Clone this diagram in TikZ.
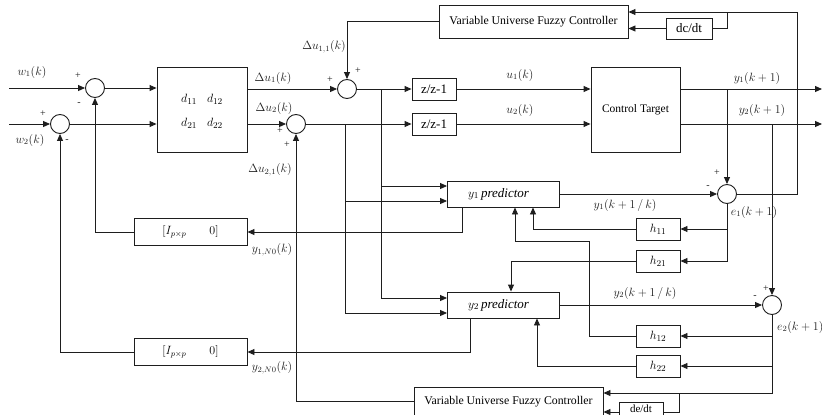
\documentclass[tikz,border=0pt]{standalone}
\usepackage{fontspec}
\setmainfont{Liberation Serif}
\usetikzlibrary{arrows.meta}
\definecolor{ink}{HTML}{1E1E1E}
\tikzset{
  blk/.style={draw=ink, line width=0.9pt, inner sep=0pt, font=\fontsize{11.5}{13}\selectfont},
  sumc/.style={draw=ink, circle, line width=0.9pt, minimum size=19pt, inner sep=0pt},
  con/.style={draw=ink, line width=0.9pt},
  arr/.style={con, -{Triangle[length=7pt,width=6pt]}},
  lbl/.style={font=\fontsize{12}{14}\selectfont, inner sep=0pt, text=ink},
  sgn/.style={font=\fontsize{10}{11}\selectfont, inner sep=0pt, text=ink},
}
\begin{document}
\begin{tikzpicture}[x=1pt,y=-1pt]
\useasboundingbox (0,0) rectangle (822,415);
\clip (0,0) rectangle (822,415);

% sums
\node[sumc] (S1) at (95,88) {};
\node[sumc] (S2) at (60,124) {};
\node[sumc] (S3) at (347,89) {};
\node[sumc] (S4) at (296,124) {};
\node[sumc] (E1) at (727,194) {};
\node[sumc] (E2) at (772,305) {};

% blocks
\node[blk, minimum width=90pt, minimum height=85pt] (D) at (202,109.5)
  {\fontsize{13}{24}\selectfont$\begin{array}{cc} d_{11} & d_{12}\\ d_{21} & d_{22}\end{array}$};
\node[blk, minimum width=44pt, minimum height=22pt, font=\fontsize{13}{15}\selectfont] (Z1) at (434,89) {z/z-1};
\node[blk, minimum width=44pt, minimum height=22pt, font=\fontsize{13}{15}\selectfont] (Z2) at (434,124) {z/z-1};
\node[blk, minimum width=89pt, minimum height=85pt] (CT) at (635.5,109.5) {Control Target};
\node[blk, minimum width=189pt, minimum height=33pt, font=\fontsize{11.8}{13}\selectfont] (V1) at (533.5,21.5) {Variable Universe Fuzzy Controller};
\node[blk, minimum width=46pt, minimum height=21pt, font=\fontsize{13}{15}\selectfont] (DT1) at (689,28.5) {dc/dt};
\node[blk, minimum width=189pt, minimum height=30pt, font=\fontsize{11.8}{13}\selectfont] (V2) at (508.5,402) {Variable Universe Fuzzy Controller};
\node[blk, minimum width=44pt, minimum height=20pt, font=\fontsize{11}{13}\selectfont] (DT2) at (641,412) {\raisebox{7pt}{de/dt}};
\node[blk, minimum width=112pt, minimum height=26pt, font=\fontsize{13}{15}\selectfont] (P1) at (503.5,194) {$y_1$\,\textit{predictor}\hspace*{10pt}};
\node[blk, minimum width=112pt, minimum height=26pt, font=\fontsize{13}{15}\selectfont] (P2) at (503.5,305) {$y_2$\,\textit{predictor}\hspace*{10pt}};
\node[blk, minimum width=113pt, minimum height=27pt] (I1) at (190.5,232) {$[I_{p\times p}\qquad 0]$};
\node[blk, minimum width=113pt, minimum height=27pt] (I2) at (190.5,352) {$[I_{p\times p}\qquad 0]$};
\node[blk, minimum width=44pt, minimum height=22pt, font=\fontsize{12.5}{14}\selectfont] (H11) at (658,229) {$h_{11}$};
\node[blk, minimum width=44pt, minimum height=22pt, font=\fontsize{12.5}{14}\selectfont] (H21) at (658,261) {$h_{21}$};
\node[blk, minimum width=44pt, minimum height=22pt, font=\fontsize{12.5}{14}\selectfont] (H12) at (658,336) {$h_{12}$};
\node[blk, minimum width=44pt, minimum height=22pt, font=\fontsize{12.5}{14}\selectfont] (H22) at (658,366) {$h_{22}$};

% free ends and junctions
\coordinate (W1) at (9,88);
\coordinate (W2) at (9,124);
\coordinate (B1) at (381,89);
\coordinate (B2) at (345,124);
\coordinate (Y1o) at (822,89);
\coordinate (Y2o) at (822,124);
\coordinate (F1) at (797,12);
\coordinate (J1) at (727,12);
\coordinate (C1) at (589,241);
\coordinate (J3) at (679,393);

% input side
\draw[arr] (W1) -- (S1);
\draw[arr] (W2) -- (S2);
\draw[arr] (S1) -- (D.west |- S1);
\draw[arr] (S2) -- (D.west |- S2);
\draw[arr] (D.east |- S3) -- (S3);
\draw[arr] (D.east |- S4) -- (S4);
\draw[arr] (V1.west) -| (S3);
\draw[arr] ([yshift=1pt]V2.west) -| (S4);
\draw[arr] (S3) -- (Z1);
\draw[arr] (S4) -- (Z2);
\draw[arr] (Z1) -- (CT.west |- Z1);
\draw[arr] (Z2) -- (CT.west |- Z2);

% branches to predictors
\draw[arr] (B1) |- ([yshift=8pt]P1.west);
\draw[arr] (B1) |- ([yshift=7pt]P2.west);
\draw[arr] (B2) |- ([yshift=-7pt]P1.west);
\draw[arr] (B2) |- ([yshift=-8pt]P2.west);

% predictor to I blocks
\draw[arr] ([xshift=-41.5pt]P1.south) |- (I1.east);
\draw[arr] ([xshift=-33.5pt]P2.south) |- (I2.east);
\draw[arr] (I1.west) -| (S1);
\draw[arr] (I2.west) -| (S2);

% outputs
\draw[arr] (CT.east |- Z1) -- (Y1o);
\draw[arr] (CT.east |- Z2) -- (Y2o);
\draw[arr] (E1 |- Z1) -- (E1);
\draw[arr] (E2 |- Z2) -- (E2);
\draw[arr] (P1.east) -- (E1);
\draw[arr] (P2.east) -- (E2);

% top feedback
\draw[arr] (E1.east) -| (F1) -- ([yshift=9.5pt]V1.east);
\draw[con] (J1) |- (DT1.east);
\draw[arr] (DT1.west) -- (V1.east |- DT1.west);

% e1 to h11,h21
\draw[arr] (E1.south) |- (H21.east);
\draw[arr] (E1 |- H11) -- (H11.east);
\draw[arr] (H11.west) -| ([xshift=29.5pt]P1.south);
\draw[arr] (H21.west) -| ([xshift=7.5pt]P2.north);

% e2 to h12,h22
\draw[arr] (E2.south) |- ([yshift=9pt]V2.east);
\draw[arr] (E2 |- H12) -- (H12.east);
\draw[arr] (E2 |- H22) -- (H22.east);
\draw[arr] (H12.west) -| (C1) -| ([xshift=11.5pt]P1.south);
\draw[arr] (H22.west) -| ([xshift=33.5pt]P2.south);
\draw[con] (J3) |- (DT2.east);
\draw[arr] (DT2.west) -- (V2.east |- DT2.west);

% labels
\node[lbl] (lw1) at (32,72) {$w_1(k)$};
\node[lbl] (lw2) at (30,140) {$w_2(k)$};
\node[sgn] at (78,76) {+};
\node[sgn] at (79,104) {-};
\node[sgn] at (43,114) {+};
\node[sgn] at (67,141) {-};
\node[lbl] (ldu1) at (273,78) {$\Delta u_1(k)$};
\node[lbl] (ldu2) at (274,108) {$\Delta u_2(k)$};
\node[lbl] (ldu11) at (324,47) {$\Delta u_{1,1}(k)$};
\node[sgn] at (358,71) {+};
\node[sgn] at (330,80) {+};
\node[sgn] at (280,131) {+};
\node[sgn] at (287,145) {+};
\node[lbl] (ldu21) at (270,170) {$\Delta u_{2,1}(k)$};
\node[lbl] (lu1) at (520,75) {$u_1(k)$};
\node[lbl] (lu2) at (520,110) {$u_2(k)$};
\node[lbl] (ly1) at (757,78) {$y_1(k+1)$};
\node[lbl] (ly2) at (762,110) {$y_2(k+1)$};
\node[sgn] at (717,173) {+};
\node[sgn] at (708,187) {-};
\node[lbl] (le1) at (754,212) {$e_1(k+1)$};
\node[lbl] (ly1p) at (625,205) {$y_1(k+1\,/\,k)$};
\node[lbl] (ly2p) at (645,293) {$y_2(k+1\,/\,k)$};
\node[sgn] at (766,289) {+};
\node[sgn] at (755,297) {-};
\node[lbl, anchor=west] (le2) at (777,327) {$e_2(k+1)$};
\node[lbl] (ly1n) at (272,250) {$y_{1,N0}(k)$};
\node[lbl] (ly2n) at (272,368) {$y_{2,N0}(k)$};
\end{tikzpicture}
\end{document}
